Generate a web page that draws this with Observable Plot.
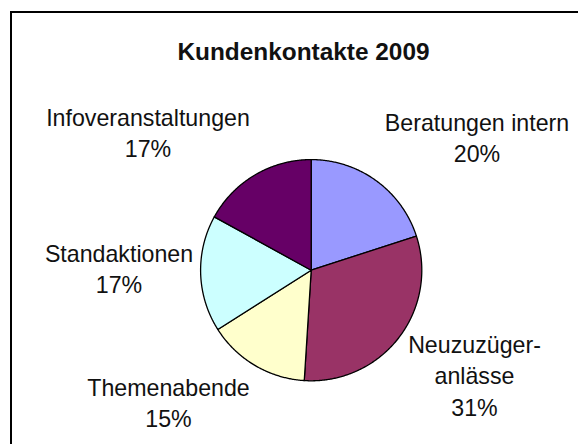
<!DOCTYPE html>
<html>
<head>
<meta charset="utf-8">
<script src="https://cdn.jsdelivr.net/npm/d3@7"></script>
<script src="https://cdn.jsdelivr.net/npm/@observablehq/plot@0.6"></script>
<style>
  html, body { margin: 0; padding: 0; background: #fff; overflow: hidden; }
  #wrap { position: relative; width: 578px; height: 444px; overflow: hidden; }
  #wrap svg { position: absolute; left: 0; top: 0; }
  #frame { position: absolute; left: 10px; top: 11px; width: 700px; height: 700px;
           border: 2px solid #000; box-sizing: border-box; pointer-events: none; }
</style>
</head>
<body>
<div id="wrap"><div id="frame"></div></div>
<script>
// ---- data ----
const title = "Kundenkontakte 2009";
const categories = ["Beratungen intern", "Neuzuzüger-\nanlässe", "Themenabende", "Standaktionen", "Infoveranstaltungen"];
const values = [20, 31, 15, 17, 17];
const colors = ["#9999FF", "#993366", "#FFFFCC", "#CCFFFF", "#660066"];

// ---- layout (pixels) ----
const W = 578, H = 444;
const pie = {cx: 310.7, cy: 269.7, r: 110.6};
// label anchor: x center, y = baseline of last line
const labelPos = [
  {x: 476.5, y: 161.5},
  {x: 474, y: 415},
  {x: 168, y: 426.5},
  {x: 118.5, y: 292.3},
  {x: 147.5, y: 156.7}
];
const titlePos = {x: 303, y: 59.3};

const total = d3.sum(values);
const arcs = d3.pie().sort(null).value(d => d)(values);

// polygon outline points for each slice
const slicePts = [];
arcs.forEach((a, i) => {
  const name = categories[i];
  slicePts.push({name, color: colors[i], x: pie.cx, y: pie.cy});
  const n = Math.max(2, Math.ceil((a.endAngle - a.startAngle) / (Math.PI / 360)));
  for (let k = 0; k <= n; k++) {
    const t = a.startAngle + (a.endAngle - a.startAngle) * k / n;
    slicePts.push({name, color: colors[i], x: pie.cx + pie.r * Math.sin(t), y: pie.cy - pie.r * Math.cos(t)});
  }
});

const labels = categories.map((c, i) => ({
  text: c + "\n" + Math.round(values[i] / total * 100) + "%",
  x: labelPos[i].x, y: labelPos[i].y
}));

const chart = Plot.plot({
  width: W, height: H,
  margin: 0,
  x: {domain: [0, W], range: [0, W], axis: null},
  y: {domain: [0, H], range: [0, H], axis: null},
  style: {fontFamily: "'Liberation Sans', Arial, sans-serif", background: "transparent"},
  marks: [
    Plot.line(slicePts, {x: "x", y: "y", z: "name", fill: "color", stroke: "#000", strokeWidth: 1.3, curve: "linear-closed", strokeLinejoin: "round"}),
    Plot.text(labels, {x: "x", y: "y", text: "text", lineAnchor: "bottom", lineHeight: 1.34, fontSize: 23.2, fill: "#111", textAnchor: "middle"}),
    Plot.text([title], {x: () => titlePos.x, y: () => titlePos.y, text: d => d, lineAnchor: "bottom", fontSize: 24.4, fontWeight: "bold", fill: "#111", textAnchor: "middle"})
  ]
});
document.getElementById("wrap").prepend(chart);
</script>
</body>
</html>
